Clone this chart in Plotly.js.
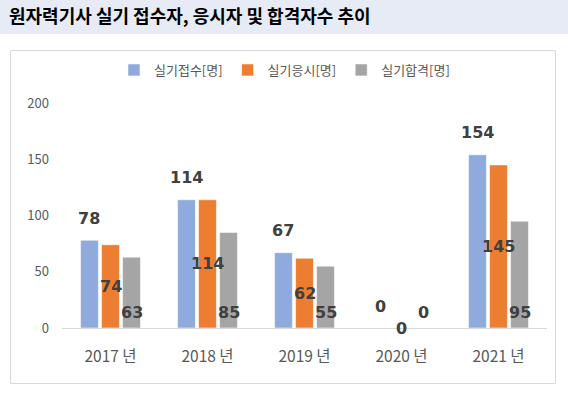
<!DOCTYPE html>
<html>
<head>
<meta charset="utf-8">
<script src="https://cdn.plot.ly/plotly-3.0.1.min.js"></script>
<style>html,body{margin:0;padding:0;background:#fff;}#chart{width:568px;height:399px;}</style>
</head>
<body>
<div id="chart"></div>
<script>
const categories = ['2017 년', '2018 년', '2019 년', '2020 년', '2021 년'];
const seriesNames = ['실기접수[명]', '실기응시[명]', '실기합격[명]'];
const applied = [78, 114, 67, 0, 154];
const tested = [74, 114, 62, 0, 145];
const passed = [63, 85, 55, 0, 95];
const yTicks = [0, 50, 100, 150, 200];
const titleText = '원자력기사 실기 접수자, 응시자 및 합격자수 추이';

const colors = ['#8faadc', '#ed7d31', '#a5a5a5'];
const W = 568, H = 399;
const M = {l: 62, r: 21, t: 103, b: 71};
const pw = W - M.l - M.r, ph = H - M.t - M.b;
const px = x => (x - M.l) / pw;
const py = y => (H - M.b - y) / ph;

const series = [applied, tested, passed];
const traces = series.map((vals, i) => ({
  type: 'bar', name: seriesNames[i], x: categories, y: vals,
  marker: {color: colors[i], line: {color: 'rgba(255,255,255,0.7)', width: 0.8}},
  hoverinfo: 'x+y+name'
}));

const labelFont = {family: 'DejaVu Sans', size: 16, color: '#404040', weight: 'bold'};
const annotations = [];
const xs = [-21.5, 0, 21.5];
categories.forEach((c, k) => {
  annotations.push({x: c, y: applied[k], xref: 'x', yref: 'y', text: '<b>' + applied[k] + '</b>',
    showarrow: false, xshift: xs[0], yshift: 22, yanchor: 'middle', font: labelFont});
  annotations.push({x: c, y: tested[k] / 2, xref: 'x', yref: 'y', text: '<b>' + tested[k] + '</b>',
    showarrow: false, xshift: xs[1], yshift: 0, yanchor: 'middle', font: labelFont});
  annotations.push({x: c, y: 0, xref: 'x', yref: 'y', text: '<b>' + passed[k] + '</b>',
    showarrow: false, xshift: xs[2], yshift: 16, yanchor: 'middle', font: labelFont});
});

const layout = {
  width: W, height: H,
  margin: M,
  paper_bgcolor: '#ffffff', plot_bgcolor: 'rgba(0,0,0,0)',
  font: {family: 'Noto Sans CJK KR', color: '#595959'},
  title: {text: '<b>' + titleText + '</b>', x: 9 / W, xanchor: 'left', xref: 'container',
    y: 1 - 17 / H, yanchor: 'middle', yref: 'container',
    font: {family: 'Noto Sans CJK KR', size: 18, color: '#000000'}},
  barmode: 'group', bargap: 0.35, bargroupgap: 0.15,
  showlegend: true,
  legend: {orientation: 'h', x: px(284.5), xanchor: 'center', y: py(70), yanchor: 'middle',
    font: {family: 'Noto Sans CJK KR', size: 13, color: '#595959'}, itemwidth: 30,
    bgcolor: 'rgba(0,0,0,0)', traceorder: 'normal'},
  xaxis: {type: 'category', showgrid: false, zeroline: false, showline: true, linecolor: '#d9d9d9', linewidth: 1,
    ticks: '', ticklabelstandoff: 14, tickfont: {family: 'Noto Sans CJK KR', size: 15.5, color: '#595959'}, fixedrange: true},
  yaxis: {range: [0, 200], tickvals: yTicks, ticktext: yTicks.map(String), showgrid: false, zeroline: false, showline: false,
    ticks: '', ticklabelstandoff: 12, tickfont: {family: 'Noto Sans CJK KR', size: 13, color: '#595959'}, fixedrange: true},
  annotations: annotations,
  shapes: [
    {type: 'rect', xref: 'paper', yref: 'paper', x0: px(0), x1: px(W), y0: py(0), y1: py(34),
      fillcolor: '#e6ebf6', line: {width: 0}, layer: 'below'},
    {type: 'rect', xref: 'paper', yref: 'paper', x0: px(10.5), x1: px(555.5), y0: py(50.5), y1: py(383.5),
      fillcolor: 'rgba(0,0,0,0)', line: {color: '#d9d9d9', width: 1}, layer: 'below'}
  ]
};

Plotly.newPlot('chart', traces, layout, {displayModeBar: false, staticPlot: true});
</script>
</body>
</html>
